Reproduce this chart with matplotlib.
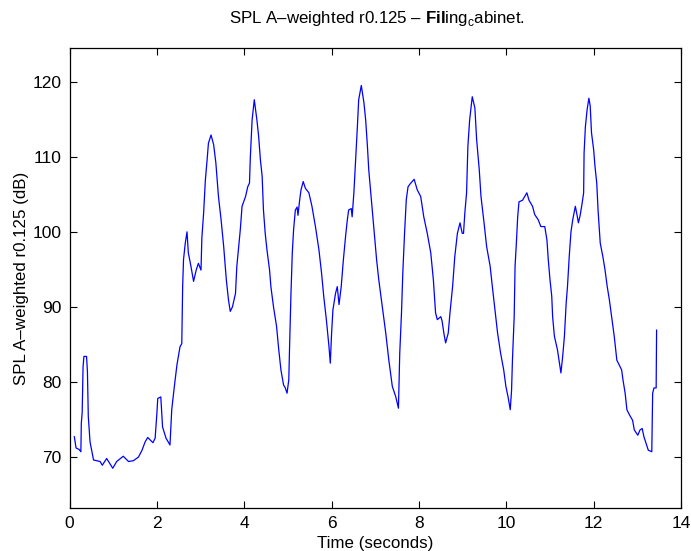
import matplotlib
matplotlib.use("Agg")
import matplotlib.pyplot as plt

plt.rcParams['font.family'] = ['Liberation Sans', 'DejaVu Sans']
plt.rcParams['mathtext.fontset'] = 'custom'
plt.rcParams['mathtext.rm'] = 'Liberation Sans'
plt.rcParams['mathtext.bf'] = 'Liberation Sans:bold'

# time (s) and SPL (dB)
t = [0.11, 0.15, 0.22, 0.26, 0.27, 0.29, 0.31, 0.33, 0.39, 0.41, 0.43, 0.47, 0.55,
     0.70, 0.75, 0.85, 0.99, 1.08, 1.23, 1.35, 1.46, 1.58, 1.66, 1.73, 1.79, 1.91,
     1.96, 2.00, 2.02, 2.09, 2.13, 2.21, 2.30, 2.34, 2.40, 2.46, 2.53, 2.57, 2.59,
     2.61, 2.65, 2.69, 2.72, 2.78, 2.84, 2.90, 2.95, 3.01, 3.03, 3.07, 3.11, 3.15,
     3.18, 3.24, 3.30, 3.35, 3.41, 3.47, 3.53, 3.59, 3.64, 3.68, 3.73, 3.80, 3.83,
     3.91, 3.95, 4.03, 4.08, 4.12, 4.14, 4.18, 4.23, 4.29, 4.33, 4.37, 4.41, 4.44,
     4.48, 4.52, 4.58, 4.61, 4.67, 4.74, 4.79, 4.84, 4.90, 4.94, 4.98, 5.02, 5.04,
     5.07, 5.10, 5.13, 5.17, 5.21, 5.23, 5.27, 5.30, 5.35, 5.40, 5.48, 5.55, 5.63,
     5.71, 5.77, 5.82, 5.88, 5.94, 5.97, 6.00, 6.03, 6.09, 6.13, 6.17, 6.22, 6.27,
     6.32, 6.36, 6.39, 6.45, 6.47, 6.51, 6.55, 6.59, 6.62, 6.68, 6.74, 6.78, 6.82,
     6.85, 6.91, 6.97, 7.03, 7.08, 7.16, 7.24, 7.31, 7.39, 7.47, 7.53, 7.56, 7.60,
     7.63, 7.67, 7.71, 7.75, 7.80, 7.89, 7.96, 8.04, 8.11, 8.19, 8.27, 8.33, 8.38,
     8.42, 8.50, 8.53, 8.57, 8.61, 8.67, 8.71, 8.77, 8.82, 8.88, 8.94, 8.99, 9.02,
     9.05, 9.09, 9.12, 9.16, 9.22, 9.28, 9.32, 9.38, 9.42, 9.49, 9.55, 9.63, 9.68,
     9.74, 9.80, 9.87, 9.94, 9.99, 10.04, 10.09, 10.12, 10.14, 10.18, 10.20, 10.23,
     10.26, 10.29, 10.37, 10.47, 10.52, 10.60, 10.65, 10.73, 10.79, 10.88, 10.93,
     10.96, 11.00, 11.04, 11.06, 11.10, 11.17, 11.23, 11.25, 11.29, 11.33, 11.37,
     11.40, 11.44, 11.48, 11.52, 11.58, 11.62, 11.65, 11.69, 11.73, 11.77, 11.78,
     11.81, 11.85, 11.89, 11.92, 11.95, 12.00, 12.03, 12.07, 12.10, 12.15, 12.21,
     12.26, 12.31, 12.36, 12.41, 12.47, 12.53, 12.58, 12.64, 12.67, 12.72, 12.76,
     12.82, 12.89, 12.93, 13.01, 13.06, 13.11, 13.15, 13.20, 13.25, 13.33, 13.35,
     13.38, 13.43, 13.44]
spl = [72.7, 71.2, 71.0, 70.7, 74.5, 75.9, 82.0, 83.4, 83.4, 81.4, 75.4, 72.0, 69.6,
       69.4, 68.9, 69.8, 68.5, 69.4, 70.1, 69.4, 69.5, 70.0, 70.9, 72.0, 72.6, 71.9,
       72.5, 75.8, 77.8, 78.0, 74.0, 72.5, 71.6, 76.3, 79.4, 82.3, 84.7, 85.1, 92.7,
       96.3, 98.5, 100.0, 97.2, 95.4, 93.4, 94.9, 95.8, 94.9, 99.2, 102.5, 106.9, 109.6,
       111.8, 112.9, 111.6, 109.2, 104.7, 101.6, 98.0, 93.6, 90.9, 89.4, 90.0, 91.8, 95.4,
       100.3, 103.4, 104.7, 106.0, 106.5, 110.0, 114.9, 117.6, 114.9, 112.7, 109.6, 107.4, 102.9,
       99.8, 97.6, 94.9, 92.7, 90.0, 87.4, 84.3, 81.6, 79.6, 79.2, 78.5, 80.3, 85.2,
       91.8, 97.2, 100.3, 102.9, 103.3, 102.2, 104.3, 105.6, 106.7, 105.8, 105.2, 103.4, 100.7,
       97.6, 94.5, 91.4, 88.3, 84.7, 82.5, 86.5, 89.6, 91.8, 92.7, 90.3, 92.7, 96.3,
       99.4, 101.6, 102.9, 103.1, 102.0, 105.2, 109.6, 114.0, 117.6, 119.5, 117.2, 114.9, 111.4,
       108.3, 104.3, 100.3, 96.3, 93.6, 90.0, 86.5, 82.9, 79.4, 78.0, 76.5, 83.8, 89.2,
       94.5, 99.8, 104.3, 106.0, 106.4, 107.0, 105.6, 104.7, 102.0, 99.8, 97.2, 93.6, 89.2,
       88.3, 88.7, 88.1, 86.5, 85.2, 86.5, 89.2, 92.7, 96.7, 99.8, 101.2, 99.8, 99.8,
       102.5, 105.2, 111.4, 114.9, 118.0, 116.5, 112.3, 108.3, 104.7, 101.2, 98.0, 95.4, 92.7,
       89.6, 86.5, 83.8, 81.6, 79.4, 78.0, 76.3, 78.9, 82.9, 88.7, 95.4, 98.5,
       102.0, 104.0, 104.2, 105.2, 104.2, 103.4, 102.3, 101.6, 100.7, 100.7, 98.9,
       96.3, 93.6, 91.4, 88.7, 86.1, 84.3, 82.0, 81.2, 83.4, 86.1, 90.5,
       92.7, 96.7, 100.0, 101.6, 103.4, 102.2, 101.2, 102.2, 103.6, 105.2, 110.5,
       114.0, 116.3, 117.8, 116.8, 113.2, 110.9, 108.7, 106.5, 102.9, 98.5, 96.7,
       94.9, 92.7, 90.9, 88.7, 86.1, 82.9, 82.3, 81.6, 80.3, 78.5, 76.3,
       75.6, 74.9, 73.6, 72.9, 73.6, 73.8, 72.7, 71.8, 70.9, 70.7, 78.5,
       79.2, 79.2, 86.9]

xticks = [0, 2, 4, 6, 8, 10, 12, 14]
yticks = [70, 80, 90, 100, 110, 120]

fig = plt.figure(figsize=(6.91, 5.51), dpi=100)
ax = fig.add_axes([0.1006, 0.078, 0.885, 0.835])
ax.plot(t, spl, color=(0, 0, 1), linewidth=0.9)

ax.set_xlim(0, 14)
ax.set_ylim(63.2, 124.5)
ax.set_xticks(xticks)
ax.set_yticks(yticks)
ax.tick_params(direction='in', length=5, width=0.8, top=True, right=True,
               labelsize=12.5, pad=6)
for s in ax.spines.values():
    s.set_linewidth(0.9)

ax.set_xlabel('Time (seconds)', fontsize=12.2, labelpad=3)
ax.set_ylabel('SPL A\u2013weighted r0.125 (dB)', fontsize=12.2, labelpad=2.5)
fig.text(0.545, 0.967,
         'SPL A\u2013weighted r0.125 \u2013 $\\mathbf{Fil}\\mathrm{ing}_\\mathrm{c}\\mathrm{abinet.}$',
         ha='center', va='center', fontsize=12.2)

fig.savefig('out.png', dpi=100)
